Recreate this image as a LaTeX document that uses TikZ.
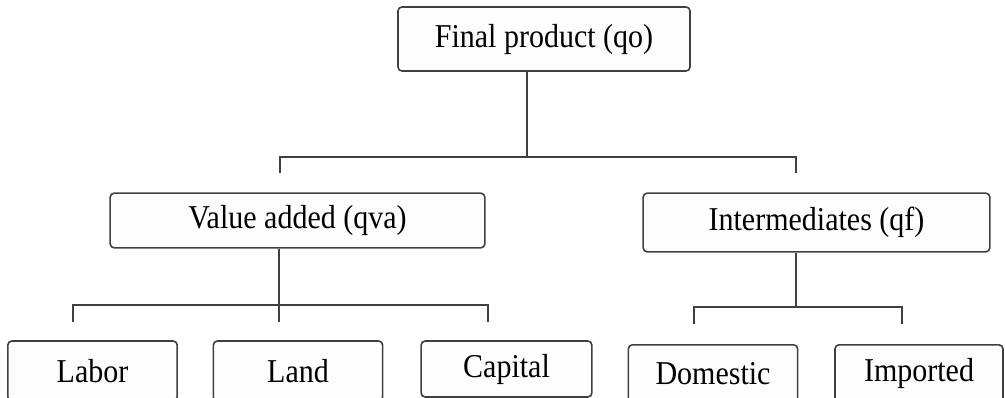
\documentclass[tikz,border=0pt]{standalone}
\usepackage{fontspec}
\setmainfont{Liberation Serif}[FakeStretch=0.9]
\definecolor{linegray}{HTML}{404040}
\definecolor{boxfill}{HTML}{FDFDFD}
\tikzset{
    box/.style={draw=linegray, line width=1.2pt, fill=boxfill, rounded corners=3pt, inner sep=0pt, font=\fontsize{25}{29}\selectfont},
    link/.style={draw=linegray, line width=1.5pt}
}
\begin{document}
\begin{tikzpicture}[x=0.75pt, y=-0.75pt]
            \useasboundingbox (0,0) rectangle (1005,398);
            \node[box, minimum width=219pt, minimum height=48pt] (fp) at (544,39) {Final product (qo)};
            \node[box, minimum width=281pt, minimum height=41pt] (va) at (297.5,220.5) {Value added (qva)};
            \node[box, minimum width=260pt, minimum height=44pt] (im) at (816.5,222.5) {Intermediates (qf)};
            \node[box, minimum width=127pt, minimum height=45pt] (lab) at (92.5,371) {Labor};
            \node[box, minimum width=127pt, minimum height=45pt] (lan) at (298,371) {Land};
            \node[box, minimum width=128pt, minimum height=42pt] (cap) at (506.5,369) {Capital};
            \node[box, minimum width=127pt, minimum height=43pt] (dom) at (713,373.5) {Domestic};
            \node[box, minimum width=126pt, minimum height=43pt] (imp) at (919,373.5) {Imported};
            \coordinate (fpj) at (527,157);
            \coordinate (fpl) at (280,173);
            \coordinate (fpr) at (796,173);
            \coordinate (vaj) at (279,305);
            \coordinate (val) at (73,322);
            \coordinate (vam) at (279,322);
            \coordinate (var) at (488,322);
            \coordinate (imj) at (796,307);
            \coordinate (iml) at (694,324);
            \coordinate (imr) at (902,324);
            \draw[link] (fp.south -| fpj) -- (fpj);
            \draw[link] (fpl) -- (fpl |- fpj) -- (fpr |- fpj) -- (fpr);
            \draw[link] (va.south -| vaj) -- (vaj);
            \draw[link] (val) -- (val |- vaj) -- (var |- vaj) -- (var);
            \draw[link] (vam) -- (vaj);
            \draw[link] (im.south -| imj) -- (imj);
            \draw[link] (iml) -- (iml |- imj) -- (imr |- imj) -- (imr);
        \end{tikzpicture}
\end{document}
